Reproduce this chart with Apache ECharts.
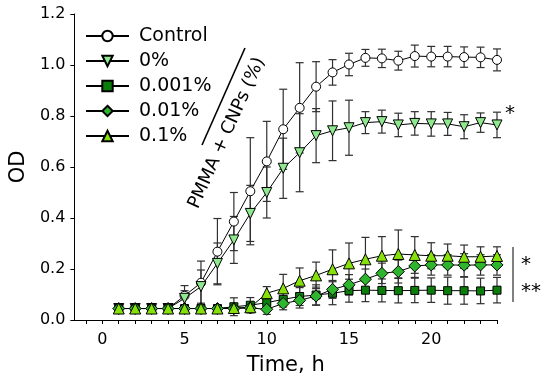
<!DOCTYPE html>
<html><head><meta charset="utf-8">
<script src="https://cdn.jsdelivr.net/npm/echarts@6/dist/echarts.min.js"></script>
<style>html,body{margin:0;padding:0;background:#fff}#c{width:550px;height:390px}</style>
</head><body><div id="c"></div>
<script>
const times = [1,2,3,4,5,6,7,8,9,10,11,12,13,14,15,16,17,18,19,20,21,22,23,24];
const seriesNames = ['Control','0%','0.001%','0.01%','0.1%'];
const control    = [0.045,0.045,0.045,0.045,0.095,0.146,0.268,0.386,0.505,0.622,0.748,0.832,0.915,0.971,1.002,1.028,1.026,1.017,1.035,1.033,1.033,1.031,1.030,1.020];
const controlErr = [0.010,0.010,0.010,0.010,0.040,0.085,0.130,0.114,0.210,0.157,0.157,0.177,0.098,0.050,0.044,0.033,0.036,0.037,0.043,0.040,0.040,0.040,0.040,0.043];
const pct0       = [0.045,0.045,0.045,0.045,0.085,0.131,0.222,0.314,0.418,0.500,0.595,0.656,0.723,0.742,0.754,0.774,0.778,0.765,0.771,0.769,0.769,0.758,0.774,0.765];
const pct0Err    = [0.010,0.010,0.010,0.010,0.030,0.065,0.080,0.092,0.110,0.100,0.118,0.153,0.106,0.117,0.108,0.043,0.045,0.046,0.046,0.048,0.045,0.047,0.038,0.050];
const pct0001    = [0.045,0.045,0.045,0.045,0.045,0.045,0.045,0.052,0.058,0.068,0.081,0.092,0.098,0.105,0.115,0.117,0.116,0.115,0.116,0.117,0.115,0.115,0.114,0.117];
const pct0001Err = [0.010,0.010,0.010,0.010,0.010,0.010,0.010,0.035,0.030,0.030,0.030,0.035,0.040,0.045,0.045,0.045,0.045,0.048,0.048,0.048,0.053,0.053,0.050,0.050];
const pct001     = [0.045,0.045,0.045,0.045,0.045,0.045,0.045,0.045,0.047,0.042,0.065,0.077,0.094,0.120,0.138,0.160,0.183,0.190,0.212,0.216,0.216,0.215,0.216,0.216];
const pct001Err  = [0.010,0.010,0.010,0.010,0.010,0.010,0.010,0.010,0.010,0.020,0.025,0.030,0.035,0.035,0.040,0.040,0.040,0.045,0.045,0.040,0.040,0.045,0.040,0.040];
const pct01      = [0.045,0.045,0.045,0.045,0.045,0.045,0.045,0.047,0.050,0.105,0.124,0.154,0.175,0.199,0.222,0.238,0.252,0.259,0.255,0.252,0.252,0.248,0.248,0.251];
const pct01Err   = [0.010,0.010,0.010,0.010,0.010,0.010,0.010,0.010,0.015,0.026,0.055,0.050,0.052,0.076,0.080,0.086,0.075,0.094,0.072,0.051,0.046,0.046,0.039,0.036];
const xLabelTicks = [0,5,10,15,20];
const xMinorTicks = [-1,0,1,2,3,4,5,6,7,8,9,10,11,12,13,14,15,16,17,18,19,20,21,22,23,24];

const FONT = 'DejaVu Sans';
const values = [control,pct0,pct0001,pct001,pct01];
const errs = [controlErr,pct0Err,pct0001Err,pct001Err,pct01Err];
const symbols = ['circle','triangle','rect','diamond','triangle'];
const rotates = [0,180,0,0,0];
const sizes = [9,10,8,12,11];
const fills = ['#ffffff','#8fe88f','#0b7d0b','#2db52d','#86e00a'];

function errRender(params, api){
  const x = api.value(0), lo = api.value(1), hi = api.value(2);
  const p1 = api.coord([x, hi]), p2 = api.coord([x, lo]);
  const w = 4, st = {stroke:'#303030', lineWidth:1.2};
  return {type:'group', children:[
    {type:'line', shape:{x1:p1[0],y1:p1[1],x2:p2[0],y2:p2[1]}, style:st},
    {type:'line', shape:{x1:p1[0]-w,y1:p1[1],x2:p1[0]+w,y2:p1[1]}, style:st},
    {type:'line', shape:{x1:p2[0]-w,y1:p2[1],x2:p2[0]+w,y2:p2[1]}, style:st}
  ]};
}

const series = [];
values.forEach((vals,i)=>{
  series.push({
    type:'custom', renderItem: errRender, z:1, silent:true,
    encode:{x:0, y:[1,2]},
    data: times.map((t,k)=>[t, vals[k]-errs[i][k], vals[k]+errs[i][k]])
  });
});
values.forEach((vals,i)=>{
  series.push({
    name: seriesNames[i], type:'line', z:2,
    data: times.map((t,k)=>[t, vals[k]]),
    symbol: symbols[i], symbolRotate: rotates[i], symbolSize: sizes[i], showAllSymbol:true,
    lineStyle:{color:'#000', width:1},
    itemStyle:{color: fills[i], borderColor:'#000', borderWidth:1, opacity:1}
  });
});

const chart = echarts.init(document.getElementById('c'), null, {renderer:'canvas'});
chart.setOption({
  animation:false,
  backgroundColor:'#fff',
  textStyle:{fontFamily:FONT},
  grid:{left:71, right:53, top:14, bottom:70},
  legend:{
    data: seriesNames, orient:'vertical', left:85, top:26.5, padding:0,
    itemWidth:43, itemHeight:13, itemGap:6,
    textStyle:{fontFamily:FONT, fontSize:19, color:'#000', padding:[0,0,0,5]}
  },
  xAxis:{
    type:'value', min:-1.7, max:24,
    name:'Time, h', nameLocation:'middle', nameGap:35,
    nameTextStyle:{fontFamily:FONT, fontSize:21, color:'#000'},
    axisLine:{show:true, onZero:false, lineStyle:{color:'#000', width:1}},
    axisTick:{show:true, inside:false, length:4, lineStyle:{color:'#000'}, customValues:xMinorTicks},
    axisLabel:{customValues:xLabelTicks, fontSize:16, color:'#000', margin:12, fontFamily:FONT},
    splitLine:{show:false}
  },
  yAxis:{
    type:'value', min:0, max:1.2, interval:0.2,
    name:'OD', nameLocation:'middle', nameGap:43,
    nameTextStyle:{fontFamily:FONT, fontSize:21, color:'#000'},
    axisLine:{show:true, onZero:false, lineStyle:{color:'#000', width:1}},
    axisTick:{show:true, inside:false, length:4, lineStyle:{color:'#000'}},
    axisLabel:{fontSize:16, color:'#000', margin:9, fontFamily:FONT, formatter:v=>v.toFixed(1)},
    splitLine:{show:false}
  },
  graphic:[
    {type:'line', shape:{x1:202,y1:145,x2:245,y2:48}, style:{stroke:'#000', lineWidth:1.6}},
    {type:'text', x:227, y:133, rotation:65.9*Math.PI/180,
     style:{text:'PMMA + CNPs (%)', font:'18px "DejaVu Sans"', fill:'#000', align:'center', verticalAlign:'middle'}},
    {type:'text', x:510, y:114, style:{text:'*', font:'20px "DejaVu Sans"', fill:'#000', align:'center', verticalAlign:'middle'}},
    {type:'line', shape:{x1:513,y1:247,x2:513,y2:302}, style:{stroke:'#000', lineWidth:1}},
    {type:'text', x:526, y:265, style:{text:'*', font:'20px "DejaVu Sans"', fill:'#000', align:'center', verticalAlign:'middle'}},
    {type:'text', x:531, y:292, style:{text:'**', font:'20px "DejaVu Sans"', fill:'#000', align:'center', verticalAlign:'middle'}}
  ],
  series: series
});
</script></body></html>
